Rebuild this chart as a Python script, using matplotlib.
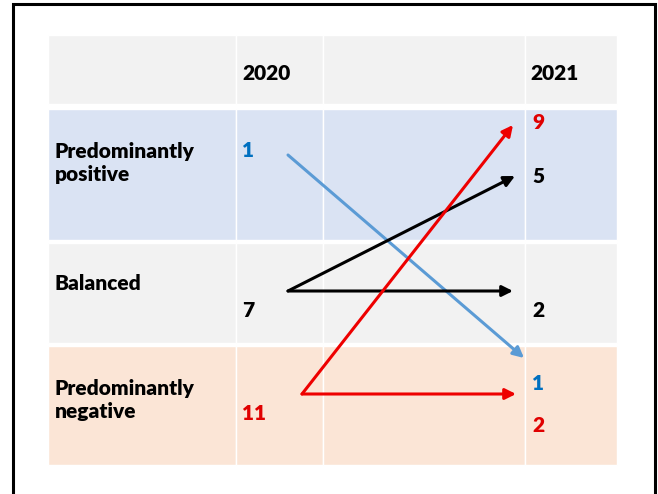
import matplotlib
matplotlib.use('Agg')
import matplotlib.pyplot as plt
from matplotlib.patches import Rectangle

# data
categories = ['Predominantly\npositive', 'Balanced', 'Predominantly\nnegative']
years = ['2020', '2021']
counts_2020 = [1, 7, 11]
# transitions: (from row, to row, count in 2021)
transitions = [(0, 2, 1), (1, 0, 5), (1, 1, 2), (2, 0, 9), (2, 2, 2)]

# layout (pixels)
row_bounds = [(109, 240), (243, 343), (346, 465)]
row_colors = ['#dae3f3', '#f2f2f2', '#fbe5d6']
src_colors = ['#5b9bd5', 'black', '#ee0000']
txt_colors = ['#0070c0', 'black', '#e00000']
col_x = [48, 236, 323, 525, 617]
y2020 = [150, 310, 413]
arrow_start = [(288, 155), (288, 291), (288, 291), (302, 394), (302, 394)]
arrow_end = [(524, 358), (515, 176), (513, 291), (513, 125), (516, 394)]
y2021 = [383, 176, 310, 122, 425]

fig = plt.figure(figsize=(6.58, 4.94), dpi=100)
ax = fig.add_axes([0, 0, 1, 1])
ax.set_xlim(0, 658)
ax.set_ylim(494, 0)
ax.axis('off')

font = ['Lato', 'DejaVu Sans']
fs = 15
fw = 'heavy'

# outer frame
ax.plot([13, 13, 655, 655], [494, 4, 4, 494], color='black', lw=2.2, solid_joinstyle='miter')

# header row + body rows
rows = [(35, 104)] + row_bounds
colors = ['#f2f2f2'] + row_colors
for (y0, y1), c in zip(rows, colors):
    for i in range(len(col_x) - 1):
        ax.add_patch(Rectangle((col_x[i], y0), col_x[i + 1] - col_x[i], y1 - y0,
                               facecolor=c, edgecolor='white', lw=1.0))

ax.text(242, 73, years[0], fontsize=fs, fontweight=fw, family=font, va='center')
ax.text(530, 73, years[1], fontsize=fs, fontweight=fw, family=font, va='center')

label_y = [163, 283, 400]
for i, cat in enumerate(categories):
    ax.text(55, label_y[i], cat, fontsize=fs, fontweight=fw, family=font,
            va='center', linespacing=1.3)
    ax.text(242, y2020[i], str(counts_2020[i]), fontsize=fs, fontweight=fw,
            family=font, va='center', color=txt_colors[i])

for k, (src, dst, n) in enumerate(transitions):
    ax.annotate('', xy=arrow_end[k], xytext=arrow_start[k],
                arrowprops=dict(arrowstyle='-|>', color=src_colors[src], lw=2.2,
                                mutation_scale=16, shrinkA=0, shrinkB=0))
    ax.text(532, y2021[k], str(n), fontsize=fs, fontweight=fw, family=font,
            va='center', color=txt_colors[src])

fig.savefig('out.png', dpi=100)
